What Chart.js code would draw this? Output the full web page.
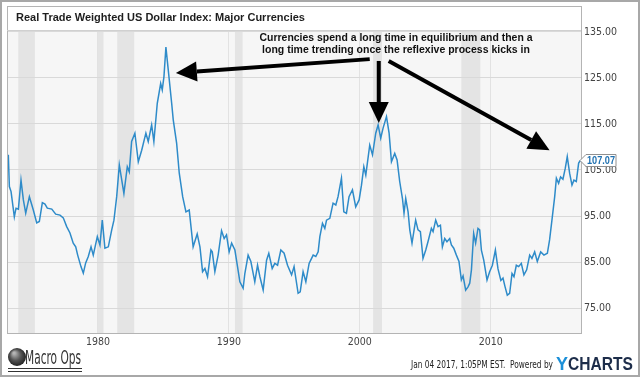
<!DOCTYPE html>
<html>
<head>
<meta charset="utf-8">
<script src="https://cdn.jsdelivr.net/npm/chart.js@4/dist/chart.umd.min.js"></script>
<style>
  html, body { margin: 0; padding: 0; background: #fff; }
  #wrap { width: 640px; height: 377px; }
</style>
</head>
<body>
<div id="wrap"><canvas id="chart" width="640" height="377"></canvas></div>
<script>
// Real trade weighted USD index (major currencies)
const years = [
  1973.15, 1973.23, 1973.36, 1973.61, 1973.74, 1973.92, 1974.12, 1974.30, 1974.48, 1974.76,
  1975.06, 1975.32, 1975.52, 1975.75, 1975.95, 1976.13, 1976.47, 1976.77, 1977.10, 1977.35,
  1977.61, 1977.86, 1978.11, 1978.30, 1978.45, 1978.70, 1978.88, 1979.06, 1979.26, 1979.47,
  1979.64, 1979.95, 1980.15, 1980.33, 1980.53, 1980.79, 1981.05, 1981.22, 1981.43, 1981.63,
  1981.98, 1982.24, 1982.39, 1982.57, 1982.82, 1983.08, 1983.34, 1983.66, 1983.84, 1984.10,
  1984.27, 1984.53, 1984.79, 1984.91, 1985.04, 1985.19, 1985.37, 1985.63, 1985.75, 1986.01,
  1986.21, 1986.47, 1986.72, 1986.97, 1987.27, 1987.58, 1987.79, 1987.99, 1988.17, 1988.37,
  1988.63, 1988.73, 1988.93, 1989.18, 1989.44, 1989.64, 1989.82, 1990.02, 1990.21, 1990.46,
  1990.66, 1990.84, 1991.09, 1991.22, 1991.47, 1991.68, 1991.98, 1992.19, 1992.37, 1992.62,
  1992.88, 1993.05, 1993.31, 1993.51, 1993.72, 1993.97, 1994.22, 1994.48, 1994.79, 1994.98,
  1995.29, 1995.45, 1995.67, 1995.88, 1996.13, 1996.44, 1996.64, 1996.82, 1996.95, 1997.15,
  1997.33, 1997.46, 1997.71, 1997.96, 1998.17, 1998.34, 1998.60, 1998.78, 1998.98, 1999.18,
  1999.44, 1999.69, 1999.95, 2000.13, 2000.31, 2000.46, 2000.76, 2000.97, 2001.22, 2001.40,
  2001.60, 2001.78, 2002.04, 2002.24, 2002.42, 2002.67, 2002.85, 2003.05, 2003.26, 2003.38,
  2003.51, 2003.69, 2003.82, 2003.99, 2004.15, 2004.27, 2004.45, 2004.63, 2004.83, 2005.04,
  2005.21, 2005.47, 2005.60, 2005.80, 2005.98, 2006.16, 2006.31, 2006.49, 2006.66, 2006.87,
  2007.00, 2007.18, 2007.38, 2007.58, 2007.76, 2007.89, 2008.09, 2008.27, 2008.40, 2008.53,
  2008.70, 2008.85, 2009.03, 2009.16, 2009.29, 2009.47, 2009.72, 2009.92, 2010.13, 2010.36,
  2010.56, 2010.78, 2010.94, 2011.10, 2011.27, 2011.45, 2011.63, 2011.78, 2011.96, 2012.14,
  2012.34, 2012.54, 2012.75, 2012.98, 2013.15, 2013.36, 2013.56, 2013.82, 2014.07, 2014.33,
  2014.50, 2014.68, 2014.89, 2015.02, 2015.19, 2015.34, 2015.52, 2015.70, 2015.85, 2016.03,
  2016.21, 2016.36, 2016.54, 2016.72, 2016.85
];
const index = [
  108.3, 101.4, 100.3, 94.8, 96.7, 96.5, 102.8, 98.5, 95.6, 99.2,
  96.3, 93.5, 93.8, 97.9, 97.6, 96.7, 96.5, 95.4, 95.2, 94.6,
  92.7, 91.3, 89.1, 88.3, 86.5, 84.0, 82.6, 84.8, 86.2, 88.3,
  86.5, 90.5, 88.7, 94.1, 88.0, 88.3, 92.0, 94.1, 99.2, 106.1,
  99.9, 105.7, 104.6, 111.2, 113.0, 106.8, 109.3, 113.0, 111.2, 114.8,
  111.2, 119.5, 123.8, 122.4, 125.3, 131.7, 126.7, 119.5, 115.9, 110.8,
  104.3, 99.2, 95.9, 96.3, 88.3, 91.1, 88.3, 82.9, 83.6, 81.8,
  87.6, 87.2, 82.9, 86.5, 91.8, 90.1, 90.9, 87.2, 89.1, 87.6,
  84.0, 80.7, 79.3, 82.5, 86.5, 85.1, 80.7, 84.3, 81.8, 78.9,
  85.4, 86.9, 83.6, 84.7, 84.3, 87.6, 86.9, 84.3, 82.2, 84.0,
  78.2, 78.5, 82.9, 80.7, 84.7, 86.5, 86.2, 87.2, 90.5, 93.4,
  92.3, 94.1, 94.5, 97.8, 97.4, 99.2, 103.2, 95.9, 95.6, 99.2,
  100.7, 97.0, 98.5, 101.7, 105.7, 103.9, 110.4, 108.3, 113.0, 114.8,
  111.9, 114.1, 116.6, 113.0, 106.8, 108.6, 107.2, 102.5, 98.8, 95.6,
  98.8, 95.9, 92.0, 89.1, 92.0, 94.1, 92.0, 91.6, 85.8, 87.6,
  89.4, 92.3, 91.6, 94.1, 92.7, 93.0, 88.3, 90.1, 89.4, 90.1,
  88.7, 88.0, 86.5, 85.1, 81.1, 82.0, 78.9, 79.6, 80.4, 83.3,
  91.2, 89.1, 92.3, 92.0, 87.6, 85.4, 81.1, 82.9, 84.3, 87.6,
  83.5, 81.0, 81.5, 79.6, 77.8, 78.2, 82.5, 81.8, 84.3, 84.0,
  84.7, 82.2, 83.3, 86.5, 85.8, 87.2, 85.1, 87.2, 86.5, 86.9,
  89.8, 94.1, 99.2, 103.2, 102.1, 103.5, 103.0, 105.4, 107.9, 104.3,
  101.7, 102.8, 102.5, 106.5, 107.07
];
const xTicks = [1980, 1990, 2000, 2010];
const yTicks = [75, 85, 95, 105, 115, 125, 135];
// recession shading, start / end year
const recessionStart = [1973.91, 1979.98, 1981.47, 1990.46, 2001.02, 2007.76];
const recessionEnd   = [1975.18, 1980.42, 1982.77, 1991.05, 2001.70, 2009.21];
const lastValue = 107.07;

const titleText = 'Real Trade Weighted US Dollar Index: Major Currencies';
const noteLines = [
  'Currencies spend a long time in equilibrium and then a',
  'long time trending once the reflexive process kicks in'
];

const narrow = "'Liberation Sans Narrow', 'Arial Narrow', 'DejaVu Sans Condensed', sans-serif";
const sans = "'Liberation Sans', Arial, sans-serif";

function drawArrow(ctx, x1, y1, x2, y2) {
    const ang = Math.atan2(y2 - y1, x2 - x1);
    const headLen = 21, halfW = 10;
    const bx = x2 - headLen * Math.cos(ang);
    const by = y2 - headLen * Math.sin(ang);
    ctx.strokeStyle = '#000';
    ctx.lineWidth = 4;
    ctx.beginPath();
    ctx.moveTo(x1, y1);
    ctx.lineTo(bx, by);
    ctx.stroke();
    ctx.fillStyle = '#000';
    ctx.beginPath();
    ctx.moveTo(x2, y2);
    ctx.lineTo(bx + halfW * Math.sin(ang), by - halfW * Math.cos(ang));
    ctx.lineTo(bx - halfW * Math.sin(ang), by + halfW * Math.cos(ang));
    ctx.closePath();
    ctx.fill();
}

const decor = {
    id: 'decor',
    beforeDraw(chart) {
        const { ctx, chartArea: a, scales: { x } } = chart;
        ctx.save();
        ctx.fillStyle = '#fff';
        ctx.fillRect(0, 0, chart.width, chart.height);
        ctx.fillStyle = '#f6f6f6';
        ctx.fillRect(a.left, a.top, a.right - a.left, a.bottom - a.top);
        ctx.fillStyle = '#e4e4e4';
        recessionStart.forEach((s, i) => {
            const x0 = x.getPixelForValue(s);
            const x1 = x.getPixelForValue(recessionEnd[i]);
            ctx.fillRect(x0, a.top, x1 - x0, a.bottom - a.top);
        });
        ctx.restore();
    },
    afterDraw(chart) {
        const { ctx, chartArea: a, scales: { x, y } } = chart;
        ctx.save();

        // frames
        ctx.strokeStyle = '#a8a8a8';
        ctx.lineWidth = 2;
        ctx.strokeRect(1, 1, chart.width - 2, chart.height - 2);
        ctx.lineWidth = 1;
        ctx.strokeStyle = '#b4b4b4';
        ctx.strokeRect(a.left + 0.5, 6.5, a.right - a.left, a.bottom - 6);
        ctx.strokeStyle = '#d0d0d0';
        ctx.beginPath();
        ctx.moveTo(a.left, a.top + 0.5);
        ctx.lineTo(a.right, a.top + 0.5);
        ctx.stroke();

        // title
        ctx.fillStyle = '#1e1e1e';
        ctx.font = 'bold 11px ' + sans;
        ctx.textBaseline = 'middle';
        ctx.textAlign = 'left';
        ctx.fillText(titleText, 16, 18, 292);

        // annotation
        ctx.fillStyle = '#111';
        ctx.font = 'bold 10.5px ' + sans;
        ctx.textAlign = 'center';
        ctx.fillText(noteLines[0], 396, 38, 273);
        ctx.fillText(noteLines[1], 396, 50, 269);

        const px = (xv, yv) => [x.getPixelForValue(xv), y.getPixelForValue(yv)];
        const arrows = [
            [[2000.76, 129.1], [1985.95, 126.1]],
            [[2001.45, 128.7], [2001.45, 115.2]],
            [[2002.21, 128.7], [2014.50, 109.3]]
        ];
        arrows.forEach(([from, to]) => {
            const [x1, y1] = px(from[0], from[1]);
            const [x2, y2] = px(to[0], to[1]);
            drawArrow(ctx, x1, y1, x2, y2);
        });

        // last value flag
        const yc = Math.round(y.getPixelForValue(lastValue)) + 0.5;
        const bx = a.right + 2;
        ctx.lineWidth = 1;
        ctx.beginPath();
        ctx.moveTo(bx - 3, yc);
        ctx.lineTo(bx + 3, yc - 6);
        ctx.lineTo(bx + 33, yc - 6);
        ctx.lineTo(bx + 33, yc + 6);
        ctx.lineTo(bx + 3, yc + 6);
        ctx.closePath();
        ctx.fillStyle = '#ffffff';
        ctx.fill();
        ctx.strokeStyle = '#909090';
        ctx.stroke();
        ctx.fillStyle = '#1f70b0';
        ctx.font = 'bold 10.5px ' + sans;
        ctx.textAlign = 'left';
        ctx.textBaseline = 'middle';
        ctx.fillText(lastValue.toFixed(2), bx + 4, yc + 0.5, 28);

        // footer: logo
        const g = ctx.createRadialGradient(14, 353, 1, 17, 357, 10);
        g.addColorStop(0, '#b5b5b5');
        g.addColorStop(0.5, '#555');
        g.addColorStop(1, '#1a1a1a');
        ctx.fillStyle = g;
        ctx.beginPath();
        ctx.arc(17, 357, 9, 0, Math.PI * 2);
        ctx.fill();
        ctx.fillStyle = '#333';
        ctx.font = '19px ' + narrow;
        ctx.textBaseline = 'alphabetic';
        ctx.fillText('Macro Ops', 25, 364, 56);
        ctx.strokeStyle = '#333';
        ctx.lineWidth = 1;
        ctx.beginPath();
        ctx.moveTo(8, 368.5); ctx.lineTo(82, 368.5);
        ctx.moveTo(8, 371.5); ctx.lineTo(82, 371.5);
        ctx.stroke();

        // footer: stamp and brand
        ctx.fillStyle = '#222';
        ctx.font = '10px ' + narrow;
        ctx.textAlign = 'right';
        ctx.fillText('Jan 04 2017, 1:05PM EST.  Powered by', 553, 368, 142);
        ctx.textAlign = 'left';
        ctx.font = 'bold 18px ' + sans;
        ctx.fillStyle = '#1b8fd8';
        ctx.fillText('Y', 556, 370);
        const yw = ctx.measureText('Y').width;
        ctx.fillStyle = '#1d2d4a';
        ctx.fillText('CHARTS', 556 + yw, 370, 77 - yw);

        ctx.restore();
    }
};

const ctx = document.getElementById('chart').getContext('2d');
new Chart(ctx, {
    type: 'line',
    data: {
        datasets: [{
            data: years.map((yr, i) => ({ x: yr, y: index[i] })),
            borderColor: '#2e8bc9',
            borderWidth: 1.5,
            pointRadius: 0,
            tension: 0,
            fill: false
        }]
    },
    options: {
        responsive: false,
        animation: false,
        layout: { padding: { left: 7, right: 0, top: 30, bottom: 0 } },
        plugins: {
            legend: { display: false },
            tooltip: { enabled: false }
        },
        scales: {
            x: {
                type: 'linear',
                min: 1973.05,
                max: 2016.9,
                afterBuildTicks: s => { s.ticks = xTicks.map(v => ({ value: v })); },
                afterFit: s => { s.height = 44; },
                grid: { color: '#e2e2e2', drawTicks: false },
                border: { display: false },
                ticks: {
                    padding: 3,
                    color: '#444',
                    autoSkip: false,
                    maxRotation: 0,
                    font: { family: narrow, size: 10.5 },
                    callback: v => String(v)
                }
            },
            y: {
                position: 'right',
                min: 69.57,
                max: 135.43,
                afterBuildTicks: s => { s.ticks = yTicks.map(v => ({ value: v })); },
                afterFit: s => { s.width = 59; },
                grid: { color: '#d9d9d9', drawTicks: false },
                border: { display: false },
                ticks: {
                    padding: 3,
                    color: '#444',
                    font: { family: narrow, size: 10.5 },
                    callback: v => v.toFixed(2)
                }
            }
        }
    },
    plugins: [decor]
});
</script>
</body>
</html>
